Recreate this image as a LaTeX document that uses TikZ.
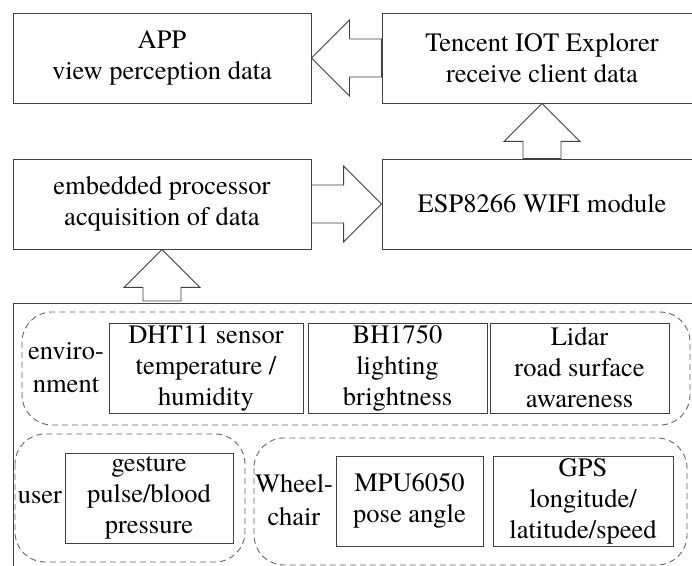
\documentclass[tikz,border=0pt]{standalone}
\usepackage{fontspec}
\newfontfamily\diagfont{texgyretermes-regular.otf}
\usetikzlibrary{calc}
% hollow block arrow from tail #1 to tip #2
\newcommand{\fatarrow}[2]{%
  \draw[hollow] ($(#1)!9.5pt!90:(#2)$) -- ($(#2)!19pt!(#1)!9.5pt!90:(#2)$)
    -- ($(#2)!19pt!(#1)!19pt!90:(#2)$) -- (#2)
    -- ($(#2)!19pt!(#1)!19pt!-90:(#2)$) -- ($(#2)!19pt!(#1)!9.5pt!-90:(#2)$)
    -- ($(#1)!9.5pt!-90:(#2)$) -- cycle;}

\begin{document}
\begin{tikzpicture}[x=0.5pt,y=-0.5pt,
  box/.style={draw=black!75,line width=0.45pt,inner sep=0pt,align=center,
    font=\diagfont\fontsize{13.25}{15.5}\selectfont},
  tag/.style={inner sep=0pt,align=center,
    font=\diagfont\fontsize{13.25}{16.5}\selectfont},
  group/.style={draw=black!60,line width=0.45pt,dash pattern=on 3pt off 2pt,
    rounded corners=15pt},
  hollow/.style={draw=black!75,line width=0.45pt,fill=white,line join=miter}]
  \useasboundingbox (0,0) rectangle (692,566);

  % top rows
  \node[box,minimum width=149pt,minimum height=45pt] (app) at (162,58)
    {APP\\view perception data};
  \node[box,minimum width=160pt,minimum height=45pt] (tencent) at (542,58)
    {Tencent IOT Explorer\\receive client data};
  \node[box,minimum width=149pt,minimum height=45pt] (embedded) at (162,204)
    {embedded processor\\acquisition of data};
  \node[box,minimum width=160pt,minimum height=45pt] (esp) at (542,204)
    {ESP8266 WIFI module};

  % sensor frame
  \node[draw=black!75,line width=0.45pt,anchor=north west,inner sep=0pt,
    minimum width=360pt,minimum height=150pt] (sensors) at (13,303) {};
  \draw[group] (22,312) rectangle (690,425);
  \draw[group] (15,434) rectangle (245,562);
  \draw[group] (254,438) rectangle (687,565);

  \node[tag] (envlabel) at (66,368) {enviro-\\nment};
  \node[box,minimum width=97pt,minimum height=45pt] (dht) at (206,368)
    {DHT11 sensor\\temperature /\\humidity};
  \node[box,minimum width=89.5pt,minimum height=45pt] (bh) at (397.5,368)
    {BH1750\\lighting\\brightness};
  \node[box,minimum width=89.5pt,minimum height=45pt] (lidar) at (579.5,368)
    {Lidar\\road surface\\awareness};

  \node[tag] (userlabel) at (40,498) {user};
  \node[box,minimum width=84pt,minimum height=45pt] (gesture) at (149,498)
    {gesture\\pulse/blood\\pressure};

  \node[tag] (chairlabel) at (294,500) {Wheel-\\chair};
  \node[box,minimum width=73.5pt,minimum height=45pt] (mpu) at (409.5,501)
    {MPU6050\\pose angle};
  \node[box,minimum width=90pt,minimum height=45pt] (gps) at (583,501)
    {GPS\\longitude/\\latitude/speed};

  % block arrows
  \coordinate (feed) at ($(embedded.south |- sensors.north)+(0,-2)$);
  \fatarrow{tencent.west}{app.east}
  \fatarrow{embedded.east}{esp.west}
  \fatarrow{esp.north}{tencent.south}
  \fatarrow{feed}{embedded.south}
\end{tikzpicture}
\end{document}
